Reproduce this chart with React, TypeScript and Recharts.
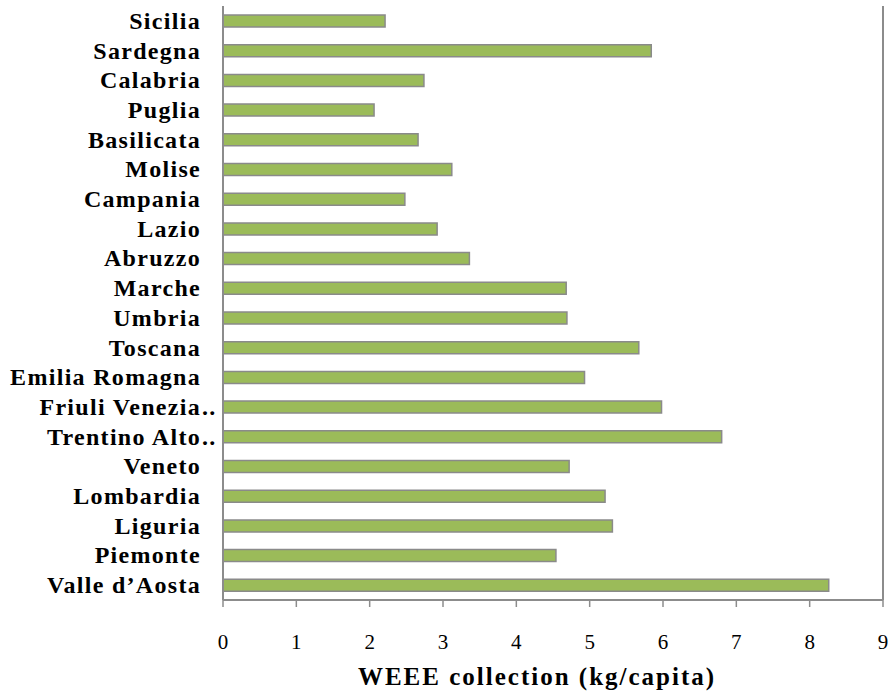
import { Bar, BarChart, ReferenceLine, XAxis, YAxis } from 'recharts';

const regions = [
  'Sicilia',
  'Sardegna',
  'Calabria',
  'Puglia',
  'Basilicata',
  'Molise',
  'Campania',
  'Lazio',
  'Abruzzo',
  'Marche',
  'Umbria',
  'Toscana',
  'Emilia Romagna',
  'Friuli Venezia..',
  'Trentino Alto..',
  'Veneto',
  'Lombardia',
  'Liguria',
  'Piemonte',
  "Valle d\u2019Aosta",
];

const collection = [
  2.21, 5.84, 2.74, 2.06, 2.66, 3.12, 2.48, 2.92, 3.36, 4.68, 4.69, 5.67, 4.93,
  5.98, 6.8, 4.72, 5.21, 5.31, 4.54, 8.26,
];

const xTicks = [0, 1, 2, 3, 4, 5, 6, 7, 8, 9];

const chartData = regions.map((name, i) => ({ name, value: collection[i] }));

const FONT = 'Liberation Serif';

const labelStyle = {
  fontFamily: FONT,
  fontWeight: 'bold' as const,
  fontSize: 24,
  letterSpacing: 1.3,
};

function RegionTick({ x, y, payload }: any) {
  const label: string = payload.value;
  const cut = label.endsWith('..');
  const base = cut ? label.slice(0, -2) : label;
  return (
    <g>
      <text
        x={x - 14}
        y={y}
        dy={8}
        textAnchor="end"
        style={labelStyle}
        fill="#000"
      >
        {base}
      </text>
      {cut && (
        <text x={x - 13} y={y} dy={8} style={labelStyle} fill="#000">
          ..
        </text>
      )}
    </g>
  );
}

function App() {
  return (
    <div style={{ position: 'absolute', left: 0, top: 0, background: '#fff' }}>
      <BarChart
        width={893}
        height={691}
        data={chartData}
        layout="vertical"
        margin={{ top: 6, right: 10, bottom: 6, left: 0 }}
        barCategoryGap={0}
      >
        <XAxis
          type="number"
          domain={[0, 9]}
          ticks={xTicks}
          interval={0}
          axisLine={{ stroke: '#8c8c8c', strokeWidth: 2 }}
          tickLine={{ stroke: '#8c8c8c', strokeWidth: 1.5 }}
          tickSize={7}
          tickMargin={27}
          height={85}
          tick={{ fontFamily: FONT, fontSize: 21, fill: '#000' }}
          label={{
            value: 'WEEE collection (kg/capita)',
            position: 'insideBottom',
            offset: 0,
            dx: -16,
            style: {
              fontFamily: FONT,
              fontSize: 25,
              fontWeight: 'bold',
              letterSpacing: 2,
              fill: '#000',
            },
          }}
        />
        <YAxis
          type="category"
          dataKey="name"
          width={223}
          axisLine={{ stroke: '#8c8c8c', strokeWidth: 2 }}
          tickLine={false}
          interval={0}
          tick={<RegionTick />}
        />
        <ReferenceLine x={9} stroke="#8c8c8c" strokeWidth={2} />
        <Bar
          dataKey="value"
          fill="#9BBB59"
          stroke="#8a8a8a"
          strokeWidth={1.5}
          barSize={12}
          isAnimationActive={false}
        />
      </BarChart>
    </div>
  );
}

export default App;
